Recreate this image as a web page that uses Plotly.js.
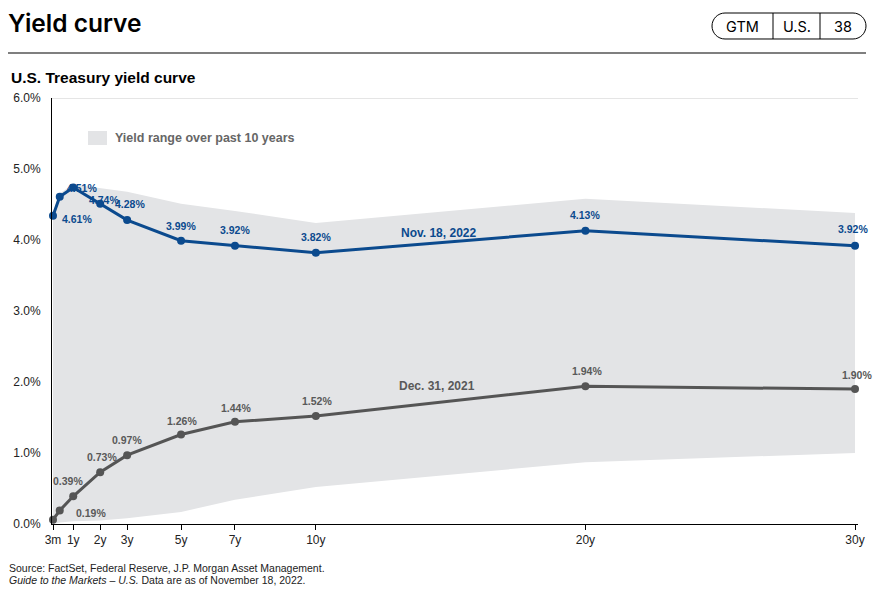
<!DOCTYPE html>
<html>
<head>
<meta charset="utf-8">
<script src="https://cdn.plot.ly/plotly-3.0.1.min.js"></script>
<style>
  html, body { margin: 0; padding: 0; background: #ffffff; }
  #chart { width: 881px; height: 592px; }
</style>
</head>
<body>
<div id="chart"></div>
<script>
// ---- Data ----
const tenorYears = [0.25, 0.5, 1, 2, 3, 5, 7, 10, 20, 30];
const tickYears = [0.25, 1, 2, 3, 5, 7, 10, 20, 30];
const tickLabels = ["3m", "1y", "2y", "3y", "5y", "7y", "10y", "20y", "30y"];
const nov2022 = [4.34, 4.61, 4.74, 4.51, 4.28, 3.99, 3.92, 3.82, 4.13, 3.92];
const dec2021 = [0.06, 0.19, 0.39, 0.73, 0.97, 1.26, 1.44, 1.52, 1.94, 1.90];
const rangeHigh = [4.40, 4.66, 4.78, 4.73, 4.68, 4.51, 4.41, 4.24, 4.58, 4.38];
const rangeLow = [0.00, 0.02, 0.04, 0.05, 0.08, 0.17, 0.34, 0.52, 0.87, 1.00];
const yTicks = [0, 1, 2, 3, 4, 5, 6];

// ---- Styles / label placement ----
const BLUE = "#0b4a8e";
const GREY = "#555555";
const BAND = "#e3e4e6";
const FONT = "Liberation Sans, Arial, sans-serif";
const HFONT = "Inter, Liberation Sans, sans-serif";
// pixel offsets [dx, dy(up)] per point; null = no label
const novShift = [null, [17, -22], [31, -13], [-18, 16], [3, 16], [0, 15], [0, 16], [0, 16], [0, 16], [-2, 17]];
const decShift = [null, [31, -2], [-5, 15], [2, 15], [0, 15], [1, 14], [1, 14], [1, 15], [2, 15], [2, 14]];

// plot area in pixels
const L = 52, R = 858, T = 98, B = 524;
const px = x => (x - L) / (R - L);
const py = y => (B - y) / (B - T);

const fmt = v => v.toFixed(2) + "%";

const traces = [
  { x: tenorYears, y: rangeLow, type: "scatter", mode: "lines", line: { width: 0, color: BAND }, hoverinfo: "skip", showlegend: false },
  { x: tenorYears, y: rangeHigh, type: "scatter", mode: "lines", fill: "tonexty", fillcolor: BAND, line: { width: 0, color: BAND }, hoverinfo: "skip", showlegend: false },
  { x: tenorYears, y: dec2021, type: "scatter", mode: "lines+markers", line: { color: GREY, width: 3 }, marker: { color: GREY, size: 8 }, showlegend: false, cliponaxis: false },
  { x: tenorYears, y: nov2022, type: "scatter", mode: "lines+markers", line: { color: BLUE, width: 3 }, marker: { color: BLUE, size: 8 }, showlegend: false, cliponaxis: false }
];

const annotations = [];
function addLabels(vals, shifts, color) {
  vals.forEach((v, i) => {
    const s = shifts[i];
    if (!s) return;
    annotations.push({ x: tenorYears[i], y: v, xref: "x", yref: "y", text: fmt(v), showarrow: false,
      xshift: s[0], yshift: s[1], font: { family: FONT, size: 10.5, color: color, weight: "bold" }, xanchor: "center", yanchor: "middle" });
  });
}
addLabels(nov2022, novShift, BLUE);
addLabels(dec2021, decShift, "#595959");

function txt(x, y, text, font, xanchor) {
  annotations.push({ x: px(x), y: py(y), xref: "paper", yref: "paper", xanchor: xanchor || "center", yanchor: "middle",
    text: text, showarrow: false, font: font });
}

// series names
annotations.push({ x: 14.55, y: 4.10, xref: "x", yref: "y", xanchor: "center", yanchor: "middle", text: "<b>Nov. 18, 2022</b>", showarrow: false, font: { family: FONT, size: 12, color: BLUE } });
annotations.push({ x: 14.5, y: 1.94, xref: "x", yref: "y", xanchor: "center", yanchor: "middle", text: "<b>Dec. 31, 2021</b>", showarrow: false, font: { family: FONT, size: 12, color: "#595959" } });

// legend text
txt(113, 138, "<b>Yield range over past 10 years</b>", { family: FONT, size: 12.5, color: "#666666" }, "left");

// header
txt(6, 23, "Yield curve", { family: HFONT, size: 24.5, color: "#000000", weight: 600 }, "left");
txt(742, 26, "GTM", { family: HFONT, size: 14.5, color: "#000" });
txt(797, 26, "U.S.", { family: HFONT, size: 14.5, color: "#000" });
txt(843, 26, "38", { family: HFONT, size: 14.5, color: "#000" });
txt(9, 77, "<b>U.S. Treasury yield curve</b>", { family: FONT, size: 15.5, color: "#000" }, "left");

// footer
txt(7, 568, "Source: FactSet, Federal Reserve, J.P. Morgan Asset Management.", { family: FONT, size: 10.5, color: "#222" }, "left");
txt(7, 580, "<i>Guide to the Markets – U.S.</i> Data are as of November 18, 2022.", { family: FONT, size: 10.5, color: "#222" }, "left");

// pill path
function pill(x0, x1, y0, y1) {
  const r = (y1 - y0) / 2, k = 0.5523 * r;
  const P = (x, y) => px(x).toFixed(5) + "," + py(y).toFixed(5);
  return "M" + P(x0 + r, y0) + " L" + P(x1 - r, y0) +
    " C" + P(x1 - r + k, y0) + " " + P(x1, y0 + r - k) + " " + P(x1, y0 + r) +
    " C" + P(x1, y0 + r + k) + " " + P(x1 - r + k, y1) + " " + P(x1 - r, y1) +
    " L" + P(x0 + r, y1) +
    " C" + P(x0 + r - k, y1) + " " + P(x0, y0 + r + k) + " " + P(x0, y0 + r) +
    " C" + P(x0, y0 + r - k) + " " + P(x0 + r - k, y0) + " " + P(x0 + r, y0) + " Z";
}

const shapes = [
  { type: "line", xref: "paper", yref: "y", x0: 0, x1: 1, y0: 6, y1: 6, line: { color: "#cccccc", width: 1 }, layer: "below" },
  { type: "rect", xref: "paper", yref: "paper", x0: px(88), x1: px(107), y0: py(145), y1: py(131), fillcolor: BAND, line: { width: 0 } },
  { type: "line", xref: "paper", yref: "paper", x0: px(8), x1: px(866), y0: py(53), y1: py(53), line: { color: "#000", width: 1.2 } },
  { type: "path", xref: "paper", yref: "paper", path: pill(712, 866, 13, 39), line: { color: "#000", width: 1 } },
  { type: "line", xref: "paper", yref: "paper", x0: px(773), x1: px(773), y0: py(13), y1: py(39), line: { color: "#000", width: 1 } },
  { type: "line", xref: "paper", yref: "paper", x0: px(820), x1: px(820), y0: py(13), y1: py(39), line: { color: "#000", width: 1 } }
];

const layout = {
  width: 881, height: 592,
  margin: { l: L, r: 881 - R, t: T, b: 592 - B, pad: 0 },
  paper_bgcolor: "#ffffff", plot_bgcolor: "#ffffff",
  showlegend: false,
  font: { family: FONT, size: 12, color: "#222" },
  xaxis: {
    type: "linear", range: [0.213, 30.11], tickvals: tickYears, ticktext: tickLabels,
    showgrid: false, zeroline: false, showline: true, linecolor: "#000", linewidth: 1,
    ticks: "outside", ticklen: 5, tickcolor: "#000", tickwidth: 1,
    tickfont: { family: FONT, size: 12, color: "#222" }
  },
  yaxis: {
    range: [0, 6], tickvals: yTicks, ticktext: yTicks.map(v => v.toFixed(1) + "%"),
    showgrid: false, zeroline: false, showline: true, linecolor: "#000", linewidth: 1,
    ticks: "", ticklabelstandoff: 8,
    tickfont: { family: FONT, size: 12, color: "#222" }
  },
  annotations: annotations,
  shapes: shapes
};

Plotly.newPlot("chart", traces, layout, { staticPlot: true, displayModeBar: false });
</script>
</body>
</html>
